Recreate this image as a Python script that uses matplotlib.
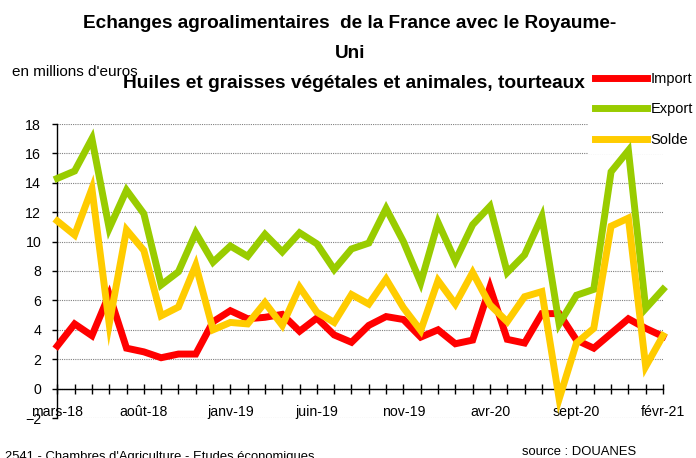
import matplotlib
matplotlib.use("Agg")
import matplotlib.pyplot as plt

plt.rcParams['font.family'] = ['Liberation Sans', 'DejaVu Sans']

months = ["mars-18", "avr-18", "mai-18", "juin-18", "juil-18", "août-18", "sept-18", "oct-18",
          "nov-18", "déc-18", "janv-19", "févr-19", "mars-19", "avr-19", "mai-19", "juin-19",
          "juil-19", "août-19", "sept-19", "oct-19", "nov-19", "déc-19", "janv-20", "févr-20",
          "mars-20", "avr-20", "mai-20", "juin-20", "juil-20", "août-20", "sept-20", "oct-20",
          "nov-20", "déc-20", "janv-21", "févr-21"]

import_vals = [2.9, 4.4, 3.6, 6.4, 2.75, 2.5, 2.1, 2.35, 2.35, 4.55, 5.3, 4.75, 4.85, 5.05, 3.9, 4.8,
               3.65, 3.15, 4.3, 4.9, 4.7, 3.5, 4.0, 3.05, 3.3, 6.9, 3.35, 3.1, 5.1, 5.1, 3.3, 2.75,
               3.75, 4.75, 4.1, 3.55]
export_vals = [14.3, 14.8, 17.0, 10.9, 13.5, 11.9, 7.05, 7.95, 10.6, 8.6, 9.7, 9.0, 10.5, 9.3, 10.6, 9.85,
               8.1, 9.5, 9.9, 12.25, 10.0, 7.2, 11.3, 8.7, 11.15, 12.4, 7.9, 9.1, 11.7, 4.4, 6.35, 6.75,
               14.75, 16.2, 5.45, 6.75]
solde_vals = [11.4, 10.45, 13.6, 4.4, 10.8, 9.4, 4.95, 5.55, 8.4, 4.0, 4.5, 4.4, 5.85, 4.3, 6.9, 5.2,
              4.5, 6.4, 5.75, 7.45, 5.5, 3.95, 7.35, 5.75, 7.9, 5.7, 4.55, 6.25, 6.6, -0.7, 3.1, 4.1,
              11.05, 11.6, 1.5, 3.6]

series_names = ["Import", "Export", "Solde"]
series_colors = ["#FF0000", "#99CC00", "#FFCC00"]

W, H = 696, 458
fig = plt.figure(figsize=(W / 100, H / 100), dpi=100)
left, right, top, bottom = 57.3, 663.0, 124.0, 418.0
ax = fig.add_axes([left / W, 1 - bottom / H, (right - left) / W, (bottom - top) / H])

x = list(range(len(months)))
for vals, name, col in zip([import_vals, export_vals, solde_vals], series_names, series_colors):
    ax.plot(x, vals, color=col, lw=5, label=name, solid_joinstyle='miter', zorder=6, clip_on=False)

ax.set_xlim(0, len(months) - 1)
ax.set_ylim(-2, 18)
ax.set_yticks(range(-2, 19, 2))
ax.yaxis.grid(True, linestyle=(0, (1, 1)), color='#808080', lw=0.8, zorder=1)
ax.set_axisbelow(True)

for s in ['top', 'right']:
    ax.spines[s].set_visible(False)
ax.spines['bottom'].set_position(('data', 0))
ax.spines['bottom'].set_linewidth(1)
ax.spines['left'].set_linewidth(1)
ax.spines['left'].set_bounds(-2, 18)

ax.set_xticks(x)
ax.set_xticklabels([m if i % 5 == 0 else '' for i, m in enumerate(months)])
ax.tick_params(axis='x', direction='inout', length=7, width=1, pad=8.2, labelsize=10.2)
ax.tick_params(axis='y', direction='out', length=3.6, width=1, pad=8, labelsize=10.2)

fs_leg = 10.5
leg = ax.legend(loc='upper left', bbox_to_anchor=(588 / W, 1 - 65 / H), bbox_transform=fig.transFigure,
                frameon=True, facecolor='white', edgecolor='none', framealpha=1, fancybox=False,
                fontsize=fs_leg, handlelength=3.55, handletextpad=0.27, labelspacing=1.12, borderpad=0.48,
                borderaxespad=0)
leg.set_zorder(5)
for h in leg.get_lines():
    h.set_linewidth(5)

fig.text(350 / W, 1 - 28 / H, "Echanges agroalimentaires  de la France avec le Royaume-",
         ha='center', va='baseline', fontsize=13.7, fontweight='bold')
fig.text(350 / W, 1 - 58 / H, "Uni", ha='center', va='baseline', fontsize=13.7, fontweight='bold')
fig.text(354 / W, 1 - 88 / H, "Huiles et graisses végétales et animales, tourteaux",
         ha='center', va='baseline', fontsize=13.8, fontweight='bold')
fig.text(12 / W, 1 - 76 / H, "en millions d'euros", ha='left', va='baseline', fontsize=11)
fig.text(5 / W, 1 - 460 / H, "2541 - Chambres d'Agriculture - Etudes économiques",
         ha='left', va='baseline', fontsize=9.4)
fig.text(522 / W, 1 - 455 / H, "source : DOUANES", ha='left', va='baseline', fontsize=9.4)

fig.savefig("out.png", dpi=100)
